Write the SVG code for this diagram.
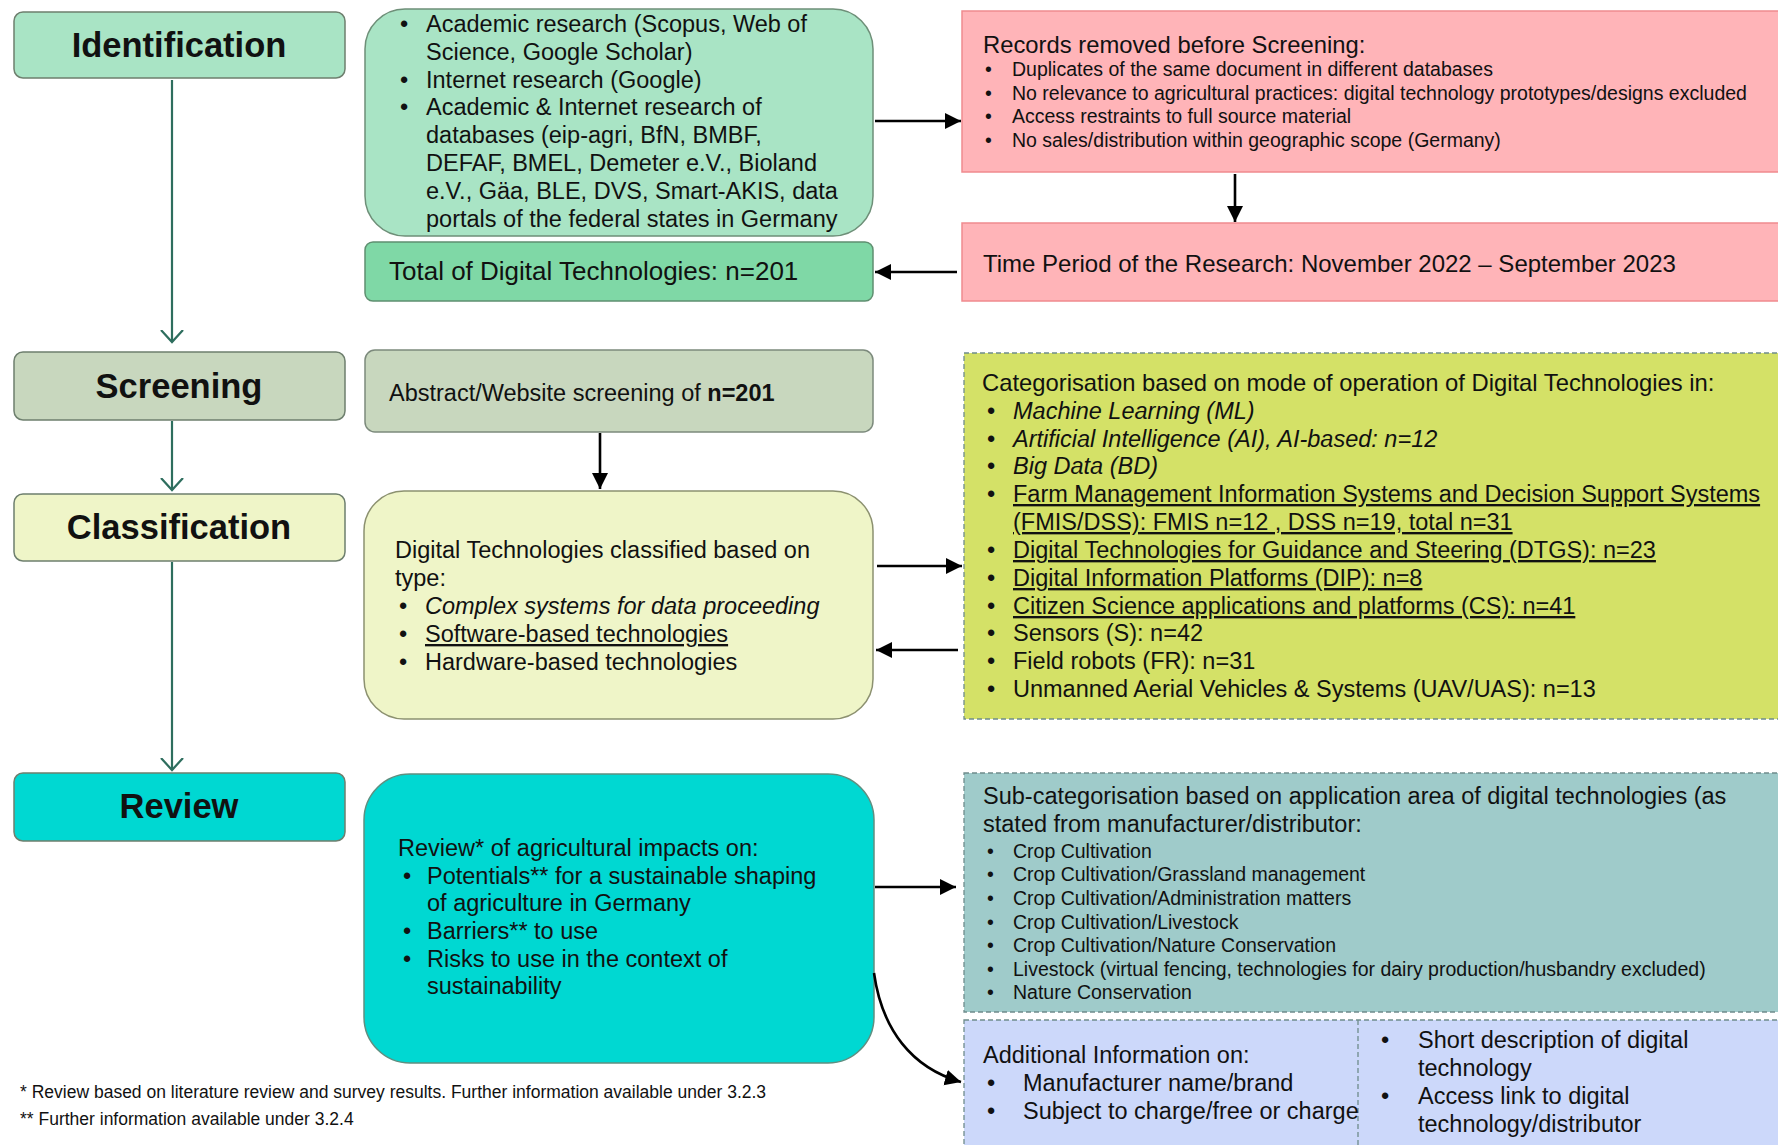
<svg xmlns="http://www.w3.org/2000/svg" width="1778" height="1145" viewBox="0 0 1778 1145">
<defs>
<marker id="ah" markerUnits="userSpaceOnUse" markerWidth="20" markerHeight="20" refX="16" refY="8" orient="auto">
<path d="M0,0 L16,8 L0,16 z" fill="#000"/>
</marker>
<marker id="vh" markerUnits="userSpaceOnUse" markerWidth="24" markerHeight="24" refX="12" refY="12" orient="auto">
<path d="M0,1 L12,12 L0,23" fill="none" stroke="#2e6e5e" stroke-width="2.2"/>
</marker>
</defs>
<style>
text{font-family:"Liberation Sans",Arial,sans-serif;fill:#111;}
.step{font-size:34.5px;font-weight:bold;text-anchor:middle;}
.t{font-size:23.5px;}
.s{font-size:19.5px;}
.f{font-size:17.5px;}
.it{font-style:italic;}
.u{text-decoration:underline;}
.stepbox{stroke:#6e7f6e;stroke-width:1.5;}
.blk{stroke:#000;stroke-width:2.6;fill:none;marker-end:url(#ah);}
.tl{stroke:#2e6e5e;stroke-width:2.2;fill:none;marker-end:url(#vh);}
.dash{stroke:#6f8c8c;stroke-width:1.3;stroke-dasharray:5,3;}
</style>
<rect width="1778" height="1145" fill="#fff"/>

<g id="identification">
<rect class="stepbox" x="14" y="12" width="331" height="66" rx="9" fill="#a9e4c5"/>
<text class="step" x="179" y="57">Identification</text>
</g>
<g id="sources">
<rect x="365" y="9" width="508" height="227" rx="40" fill="#a9e4c5" stroke="#6e8f78" stroke-width="1.5"/>
<text class="t"><tspan x="400" y="32">•</tspan><tspan x="426" y="32">Academic research (Scopus, Web of</tspan><tspan x="426" y="60">Science, Google Scholar)</tspan><tspan x="400" y="88">•</tspan><tspan x="426" y="88">Internet research (Google)</tspan><tspan x="400" y="115">•</tspan><tspan x="426" y="115">Academic &amp; Internet research of</tspan><tspan x="426" y="143">databases (eip-agri, BfN, BMBF,</tspan><tspan x="426" y="171">DEFAF, BMEL, Demeter e.V., Bioland</tspan><tspan x="426" y="199">e.V., Gäa, BLE, DVS, Smart-AKIS, data</tspan><tspan x="426" y="227">portals of the federal states in Germany</tspan></text>
</g>
<g id="total">
<rect x="365" y="242" width="508" height="59" rx="8" fill="#7fd8a6" stroke="#5f8f70" stroke-width="1.5"/>
<text x="389" y="280" style="font-size:26px">Total of Digital Technologies: n=201</text>
</g>
<g id="records">
<rect x="962" y="11" width="830" height="161" fill="#ffb4b8" stroke="#f08a8e" stroke-width="1.5"/>
<text class="t" x="983" y="53" style="font-size:23.8px">Records removed before Screening:</text>
<text class="s"><tspan x="985" y="76">•</tspan><tspan x="1012" y="76">Duplicates of the same document in different databases</tspan><tspan x="985" y="100">•</tspan><tspan x="1012" y="100">No relevance to agricultural practices: digital technology prototypes/designs excluded</tspan><tspan x="985" y="123">•</tspan><tspan x="1012" y="123">Access restraints to full source material</tspan><tspan x="985" y="147">•</tspan><tspan x="1012" y="147">No sales/distribution within geographic scope (Germany)</tspan></text>
</g>
<g id="timeperiod">
<rect x="962" y="223" width="830" height="78" fill="#ffb4b8" stroke="#f08a8e" stroke-width="1.5"/>
<text class="t" x="983" y="272" style="font-size:24px">Time Period of the Research: November 2022 – September 2023</text>
</g>

<g id="screening">
<rect class="stepbox" x="14" y="352" width="331" height="68" rx="9" fill="#c8d7be"/>
<text class="step" x="179" y="398">Screening</text>
</g>
<g id="abstract">
<rect x="365" y="350" width="508" height="82" rx="10" fill="#c8d7be" stroke="#7c8a7c" stroke-width="1.5"/>
<text class="t" x="389" y="401">Abstract/Website screening of <tspan font-weight="bold">n=201</tspan></text>
</g>

<g id="classification">
<rect class="stepbox" x="14" y="494" width="331" height="67" rx="9" fill="#eff5c8"/>
<text class="step" x="179" y="539">Classification</text>
</g>
<g id="classified">
<rect x="364" y="491" width="509" height="228" rx="40" fill="#eff5c8" stroke="#8c9170" stroke-width="1.5"/>
<text class="t"><tspan x="395" y="558">Digital Technologies classified based on</tspan><tspan x="395" y="586">type:</tspan><tspan x="399" y="614">•</tspan><tspan x="425" y="614" class="it">Complex systems for data proceeding</tspan><tspan x="399" y="642">•</tspan><tspan x="425" y="642" class="u">Software-based technologies</tspan><tspan x="399" y="670">•</tspan><tspan x="425" y="670">Hardware-based technologies</tspan></text>
</g>
<g id="categorisation">
<rect class="dash" x="964" y="353" width="830" height="366" fill="#d4e167"/>
<text class="t" x="982" y="391" style="font-size:23.8px">Categorisation based on mode of operation of Digital Technologies in:</text>
<text class="t"><tspan x="987" y="419">•</tspan><tspan x="1013" y="419" class="it">Machine Learning (ML)</tspan><tspan x="987" y="447">•</tspan><tspan x="1013" y="447" class="it">Artificial Intelligence (AI), AI-based: n=12</tspan><tspan x="987" y="474">•</tspan><tspan x="1013" y="474" class="it">Big Data (BD)</tspan><tspan x="987" y="502">•</tspan><tspan x="1013" y="502" class="u">Farm Management Information Systems and Decision Support Systems</tspan><tspan x="1013" y="530" class="u">(FMIS/DSS): FMIS n=12 , DSS n=19, total n=31</tspan><tspan x="987" y="558">•</tspan><tspan x="1013" y="558" class="u">Digital Technologies for Guidance and Steering (DTGS): n=23</tspan><tspan x="987" y="586">•</tspan><tspan x="1013" y="586" class="u">Digital Information Platforms (DIP): n=8</tspan><tspan x="987" y="614">•</tspan><tspan x="1013" y="614" class="u">Citizen Science applications and platforms (CS): n=41</tspan><tspan x="987" y="641">•</tspan><tspan x="1013" y="641">Sensors (S): n=42</tspan><tspan x="987" y="669">•</tspan><tspan x="1013" y="669">Field robots (FR): n=31</tspan><tspan x="987" y="697">•</tspan><tspan x="1013" y="697">Unmanned Aerial Vehicles &amp; Systems (UAV/UAS): n=13</tspan></text>
</g>

<g id="review">
<rect class="stepbox" x="14" y="773" width="331" height="68" rx="9" fill="#00d8d2"/>
<text class="step" x="179" y="818">Review</text>
</g>
<g id="reviewcontent">
<rect x="364" y="774" width="510" height="289" rx="46" fill="#00d8d2" stroke="#5f8f80" stroke-width="1.5"/>
<text class="t"><tspan x="398" y="856">Review* of agricultural impacts on:</tspan><tspan x="403" y="884">•</tspan><tspan x="427" y="884">Potentials** for a sustainable shaping</tspan><tspan x="427" y="911">of agriculture in Germany</tspan><tspan x="403" y="939">•</tspan><tspan x="427" y="939">Barriers** to use</tspan><tspan x="403" y="967">•</tspan><tspan x="427" y="967">Risks to use in the context of</tspan><tspan x="427" y="994">sustainability</tspan></text>
</g>
<g id="subcategorisation">
<rect class="dash" x="964" y="773" width="830" height="239" fill="#9fcbca"/>
<text class="t"><tspan x="983" y="804">Sub-categorisation based on application area of digital technologies (as</tspan><tspan x="983" y="832">stated from manufacturer/distributor:</tspan></text>
<text class="s"><tspan x="987" y="858">•</tspan><tspan x="1013" y="858">Crop Cultivation</tspan><tspan x="987" y="881">•</tspan><tspan x="1013" y="881">Crop Cultivation/Grassland management</tspan><tspan x="987" y="905">•</tspan><tspan x="1013" y="905">Crop Cultivation/Administration matters</tspan><tspan x="987" y="929">•</tspan><tspan x="1013" y="929">Crop Cultivation/Livestock</tspan><tspan x="987" y="952">•</tspan><tspan x="1013" y="952">Crop Cultivation/Nature Conservation</tspan><tspan x="987" y="976">•</tspan><tspan x="1013" y="976">Livestock (virtual fencing, technologies for dairy production/husbandry excluded)</tspan><tspan x="987" y="999">•</tspan><tspan x="1013" y="999">Nature Conservation</tspan></text>
</g>
<g id="additional">
<rect class="dash" x="964" y="1020" width="830" height="140" fill="#ccd8fa"/>
<line class="dash" x1="1358" y1="1020" x2="1358" y2="1145"/>
<text class="t"><tspan x="983" y="1063">Additional Information on:</tspan><tspan x="987" y="1091">•</tspan><tspan x="1023" y="1091">Manufacturer name/brand</tspan><tspan x="987" y="1119">•</tspan><tspan x="1023" y="1119">Subject to charge/free or charge</tspan></text>
<text class="t"><tspan x="1381" y="1048">•</tspan><tspan x="1418" y="1048">Short description of digital</tspan><tspan x="1418" y="1076">technology</tspan><tspan x="1381" y="1104">•</tspan><tspan x="1418" y="1104">Access link to digital</tspan><tspan x="1418" y="1132">technology/distributor</tspan></text>
</g>

<g id="footnotes">
<text class="f" x="20" y="1098">* Review based on literature review and survey results. Further information available under 3.2.3</text>
<text class="f" x="20" y="1125">** Further information available under 3.2.4</text>
</g>

<g id="connectors">
<line class="tl" x1="172" y1="80" x2="172" y2="342"/>
<line class="tl" x1="172" y1="421" x2="172" y2="490"/>
<line class="tl" x1="172" y1="562" x2="172" y2="770"/>
<line class="blk" x1="875" y1="121" x2="961" y2="121"/>
<line class="blk" x1="1235" y1="174" x2="1235" y2="222"/>
<line class="blk" x1="957" y1="272" x2="875" y2="272"/>
<line class="blk" x1="600" y1="433" x2="600" y2="489"/>
<line class="blk" x1="877" y1="566" x2="962" y2="566"/>
<line class="blk" x1="958" y1="650" x2="876" y2="650"/>
<line class="blk" x1="875" y1="887" x2="956" y2="887"/>
<path class="blk" d="M874,973 C882,1030 912,1068 961,1082"/>
</g>
</svg>
